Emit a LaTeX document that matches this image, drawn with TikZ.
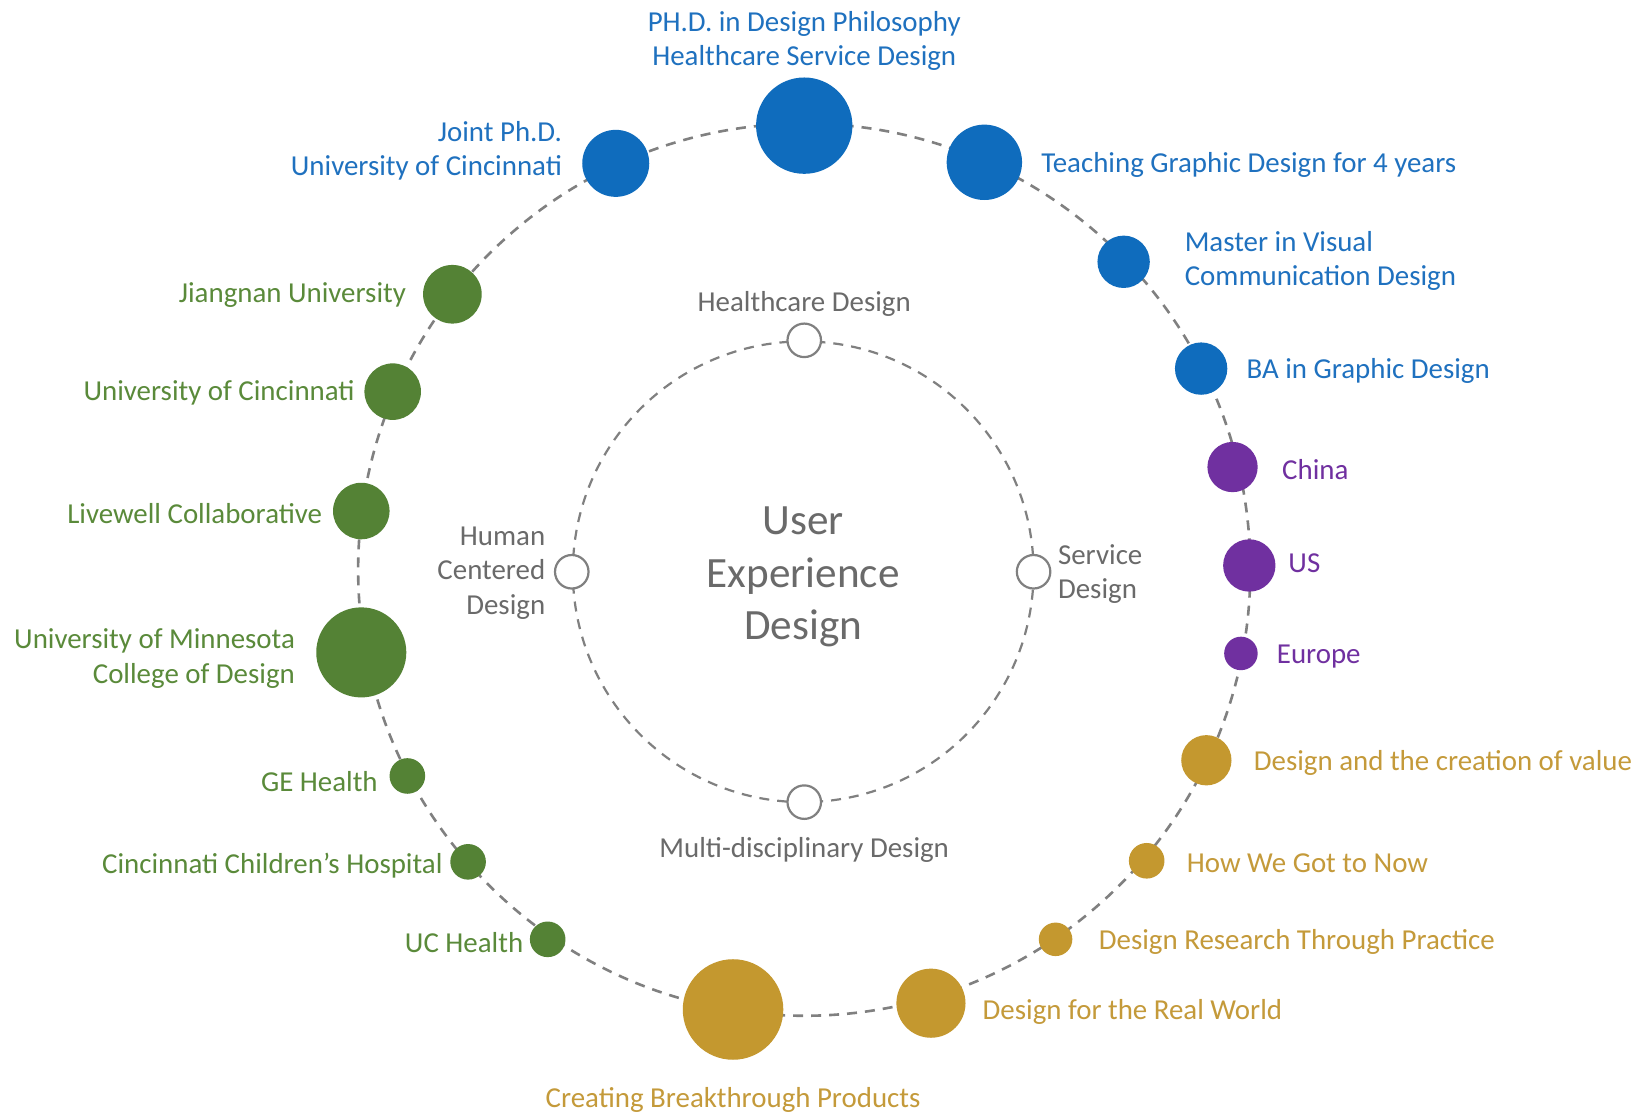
\documentclass[tikz,border=0pt]{standalone}
\usepackage{fontspec}
\setmainfont{Carlito}
\definecolor{cblue}{HTML}{0F6CBD}
\definecolor{cbluet}{HTML}{1F71BF}
\definecolor{cgreen}{HTML}{548235}
\definecolor{cgreent}{HTML}{5A8A3A}
\definecolor{cpurple}{HTML}{7030A0}
\definecolor{cgold}{HTML}{C4982F}
\definecolor{cgoldt}{HTML}{C49A3A}
\definecolor{cgray}{HTML}{6A6A6A}
\definecolor{cring}{HTML}{808080}
\begin{document}
\begin{tikzpicture}[x=0.5236pt,y=-0.5236pt,
  dotbase/.style={circle, inner sep=0pt, minimum size=#1*1.0472pt},
  dotb/.style={dotbase=#1, fill=cblue},
  dotg/.style={dotbase=#1, fill=cgreen},
  dotp/.style={dotbase=#1, fill=cpurple},
  doty/.style={dotbase=#1, fill=cgold},
  hollow/.style={dotbase=16, fill=white, draw=cring, line width=1.1pt},
  ring/.style={draw=cring, dashed, dash pattern=on 5pt off 4pt},
  lab/.style={font=\fontsize{14.45}{17.3}\selectfont, inner sep=0pt, yshift=-1.1pt},
  labl/.style={lab, anchor=west, align=left},
  labr/.style={lab, anchor=east, align=right},
  labc/.style={lab, anchor=center, align=center},
]
\useasboundingbox (0,0) rectangle (1568,1064);
\fill[white] (0,0) rectangle (1568,1064);

% rings
\coordinate (oc) at (768,544);
\coordinate (ic) at (767,546);
\draw[ring, line width=1.3pt] (oc) circle (426);
\draw[ring, line width=1.1pt] (ic) circle (220);

% blue
\node[dotb=46] (phd) at (768,120) {};
\node[dotb=36] (teach) at (940,155) {};
\node[dotb=32] (joint) at (588,156) {};
\node[dotb=25] (master) at (1073,250) {};
\node[dotb=25] (ba) at (1147,352) {};
% purple
\node[dotp=24] (china) at (1177,446) {};
\node[dotp=25] (us) at (1193,540) {};
\node[dotp=16] (europe) at (1185,624) {};
% gold
\node[doty=24] (value) at (1152,726) {};
\node[doty=17] (now) at (1095,822) {};
\node[doty=16] (drtp) at (1008,897) {};
\node[doty=33] (real) at (889,958) {};
\node[doty=48] (creating) at (700,964) {};
% green
\node[dotg=17] (uch) at (523,897) {};
\node[dotg=17] (cch) at (447,823) {};
\node[dotg=17] (ge) at (389,741) {};
\node[dotg=43] (umn) at (345,623) {};
\node[dotg=27] (live) at (345,488) {};
\node[dotg=27] (uc) at (375,374) {};
\node[dotg=28] (jiang) at (432,281) {};

% inner hollow nodes
\node[hollow] (hd) at (768,325) {};
\node[hollow] (hcd) at (546,546) {};
\node[hollow] (sd) at (987,546) {};
\node[hollow] (md) at (768,766) {};

% labels blue
\node[labc, text=cbluet] (lphd) at (768,37) {PH.D. in Design Philosophy\\Healthcare Service Design};
\node[labr, text=cbluet] (ljoint) at (537,142) {Joint Ph.D.\\University of Cincinnati};
\node[labl, text=cbluet] (lteach) at (994,155) {Teaching Graphic Design for 4 years};
\node[labl, text=cbluet] (lmaster) at (1131,247) {Master in Visual\\Communication Design};
\node[labl, text=cbluet] (lba) at (1190,352) {BA in Graphic Design};
% purple
\node[labl, text=cpurple] (lchina) at (1224,446) {China};
\node[labl, text=cpurple] (lus) at (1230,536) {US};
\node[labl, text=cpurple] (leurope) at (1219,625) {Europe};
% gold
\node[labl, text=cgoldt] (lvalue) at (1197,726) {Design and the creation of value};
\node[labl, text=cgoldt] (lnow) at (1133,822) {How We Got to Now};
\node[labl, text=cgoldt] (ldrtp) at (1049,897) {Design Research Through Practice};
\node[labl, text=cgoldt] (lreal) at (938,964) {Design for the Real World};
\node[labc, text=cgoldt] (lcreating) at (700,1048) {Creating Breakthrough Products};
% green
\node[labr, text=cgreent] (luch) at (500,898) {UC Health};
\node[labr, text=cgreent] (lcch) at (423,825) {Cincinnati Children’s Hospital};
\node[labr, text=cgreent] (lge) at (361,744) {GE Health};
\node[labr, text=cgreent] (lumn) at (282,627) {University of Minnesota\\College of Design};
\node[labr, text=cgreent] (llive) at (308,488) {Livewell Collaborative};
\node[labr, text=cgreent] (luc) at (339,373) {University of Cincinnati};
\node[labr, text=cgreent] (ljiang) at (388,280) {Jiangnan University};
% inner labels
\node[labc, text=cgray] (lhd) at (768,288) {Healthcare Design};
\node[labr, text=cgray] (lhcd) at (521,545) {Human\\Centered\\Design};
\node[labl, text=cgray] (lsd) at (1010,546) {Service\\Design};
\node[labc, text=cgray] (lmd) at (768,810) {Multi-disciplinary Design};
\node[lab, align=center, text=cgray, font=\fontsize{21.6}{26.2}\selectfont, yshift=-1.6pt] (ux) at (ic) {User\\Experience\\Design};
\end{tikzpicture}
\end{document}
